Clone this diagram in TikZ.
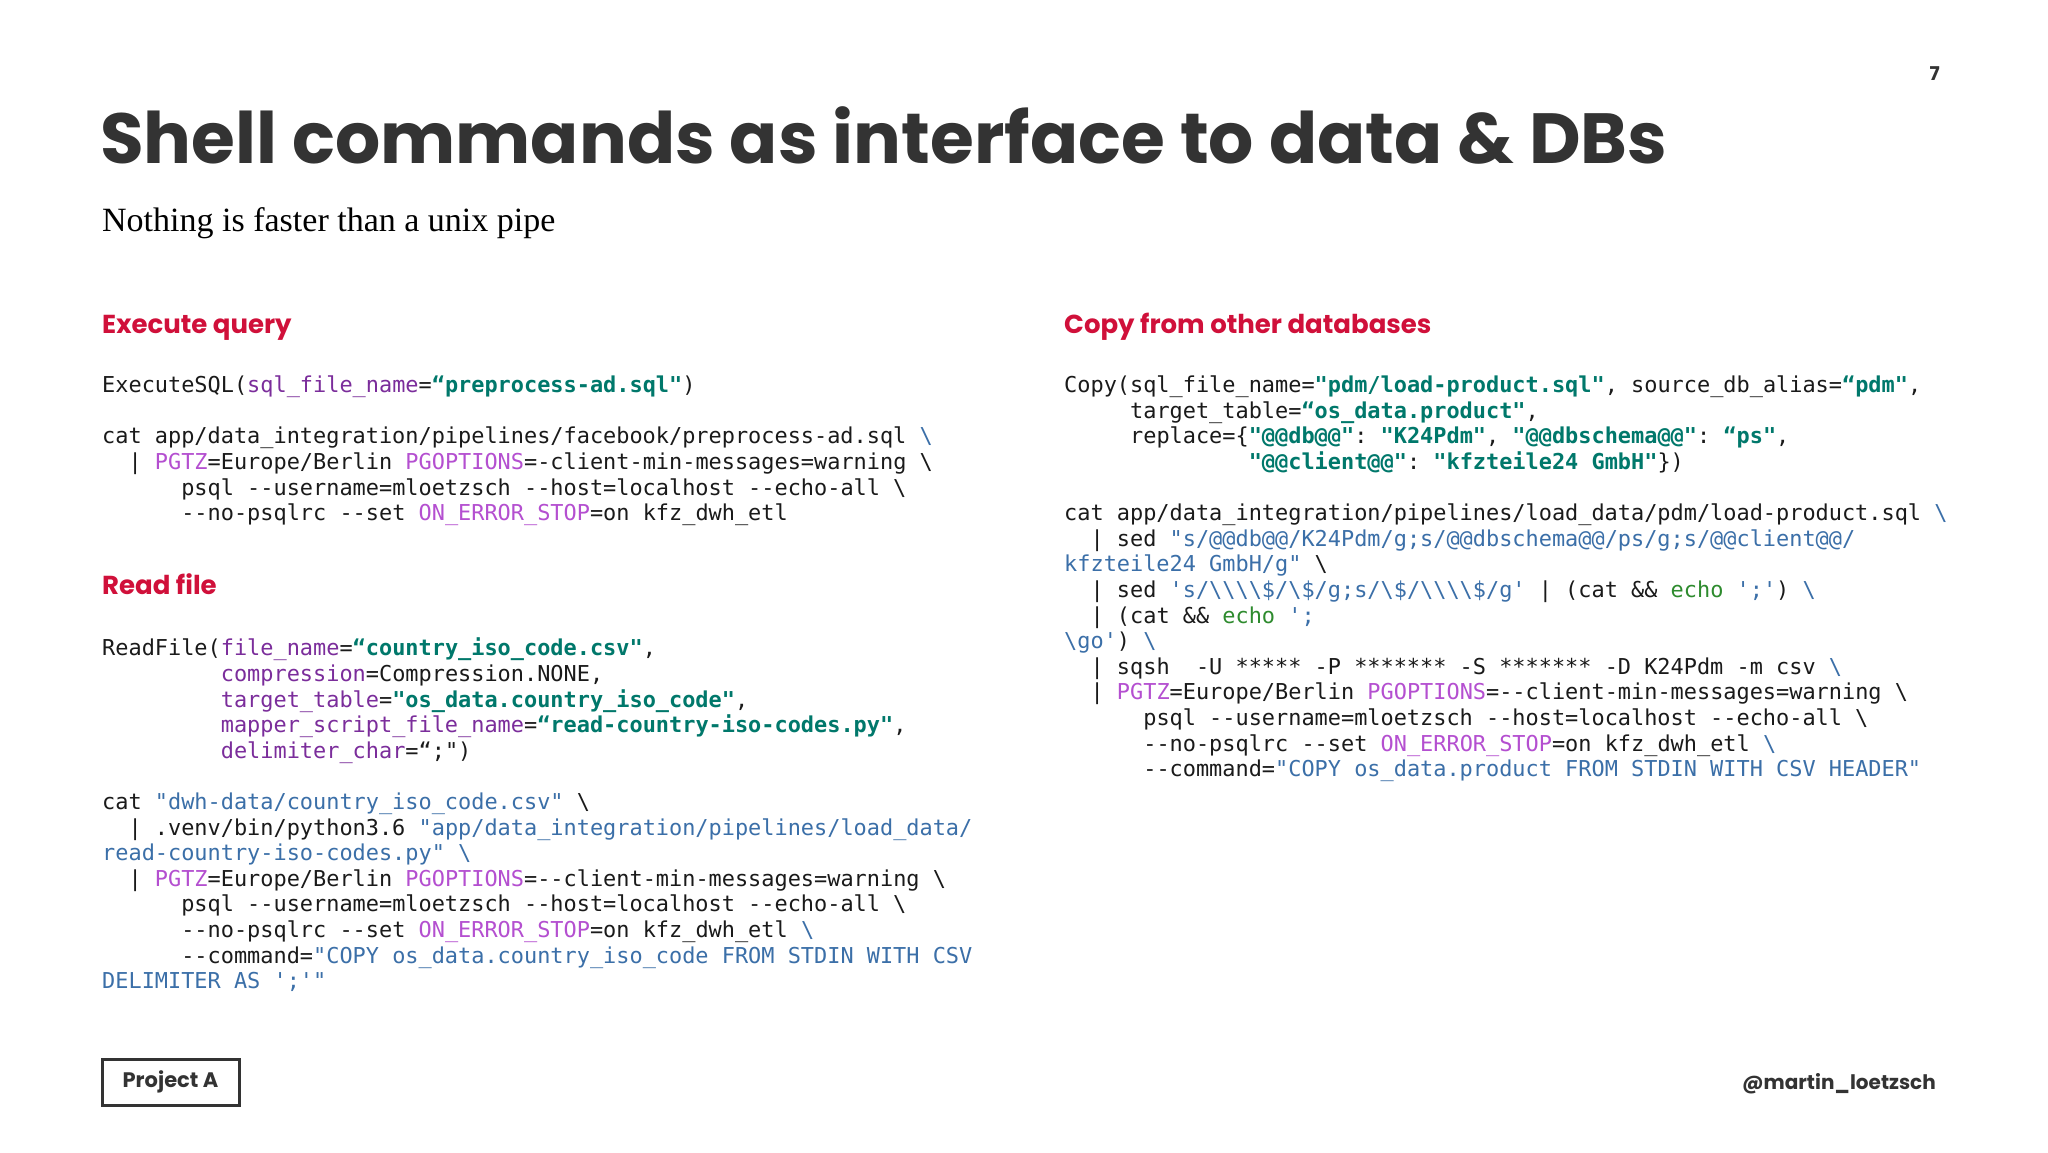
\documentclass[tikz,border=0pt]{standalone}
\usepackage{fontspec}
\setmainfont{Liberation Serif}
\setmonofont{DejaVu Sans Mono}
\newfontfamily\pop{Poppins}
\usetikzlibrary{positioning}
\definecolor{ttl}{HTML}{333333}
\definecolor{hred}{HTML}{D0103A}
\definecolor{argc}{HTML}{7B2D9B}
\definecolor{strc}{HTML}{00786B}
\definecolor{envc}{HTML}{B44FD0}
\definecolor{bluc}{HTML}{3B6FA8}
\definecolor{grnc}{HTML}{2E8B2E}
\definecolor{codec}{HTML}{1A1A1A}
\newcommand\cA[1]{\textcolor{argc}{#1}}
\newcommand\cS[1]{\textcolor{strc}{\bfseries #1}}
\newcommand\cE[1]{\textcolor{envc}{#1}}
\newcommand\cB[1]{\textcolor{bluc}{#1}}
\newcommand\cG[1]{\textcolor{grnc}{#1}}
\newcommand\ind[1]{\hspace*{#1\fontcharwd\font`x}}
\newcommand\bs{\textbackslash}
\newcommand\codeblock[1]{\begin{minipage}[t]{960pt}\ttfamily\fontsize{21.9pt}{25.6pt}\selectfont\raggedright\color{codec}#1\end{minipage}}
\tikzset{
 heading/.style={anchor=base west,inner sep=0,text=hred,font=\pop\bfseries\fontsize{26pt}{30pt}\selectfont},
 code/.style={anchor=base west,inner sep=0}
}
\begin{document}
\begin{tikzpicture}[x=1pt,y=-1pt]
\useasboundingbox[fill=white] (0,0) rectangle (2048,1152);
\node[anchor=base east,inner sep=0,text=ttl,font=\pop\bfseries\fontsize{19pt}{22pt}\selectfont] (pg) at (1940,80) {7};
\node[anchor=base west,inner sep=0,text=ttl,font=\pop\bfseries\fontsize{71pt}{84pt}\selectfont] (title) at (100,163) {Shell commands as interface to data \& DBs};
\node[anchor=base west,inner sep=0,text=black,font=\fontsize{34pt}{38pt}\selectfont] (sub) at (102,231) {Nothing is faster than a unix pipe};
\node[heading] (h1) at (102,333) {Execute query};
\node[heading] (h2) at (102,594) {Read file};
\node[heading] (h3) at (1064,333) {Copy from other databases};
\node[code] (c1) at (102,376) {\codeblock{%
ExecuteSQL(\cA{sql\_file\_name}=\cS{“preprocess-ad.sql"})\par
\mbox{}\par
cat app/data\_integration/pipelines/facebook/preprocess-ad.sql \cB{\bs}\par
\ind{2}| \cE{PGTZ}=Europe/Berlin \cE{PGOPTIONS}=-client-min-messages=warning \bs\par
\ind{6}psql --username=mloetzsch --host=localhost --echo-all \bs\par
\ind{6}--no-psqlrc --set \cE{ON\_ERROR\_STOP}=on kfz\_dwh\_etl\par}};
\node[code] (c2) at (102,638) {\codeblock{%
ReadFile(\cA{file\_name}=\cS{“country\_iso\_code.csv"},\par
\ind{9}\cA{compression}=Compression.NONE,\par
\ind{9}\cA{target\_table}=\cS{"os\_data.country\_iso\_code"},\par
\ind{9}\cA{mapper\_script\_file\_name}=\cS{“read-country-iso-codes.py"},\par
\ind{9}\cA{delimiter\_char}=“;")\par
\mbox{}\par
cat \cB{"dwh-data/country\_iso\_code.csv"} \bs\par
\ind{2}| .venv/bin/python3.6 \cB{"app/data\_integration/pipelines/load\_data/}\par
\cB{read-country-iso-codes.py"} \cB{\bs}\par
\ind{2}| \cE{PGTZ}=Europe/Berlin \cE{PGOPTIONS}=--client-min-messages=warning \bs\par
\ind{6}psql --username=mloetzsch --host=localhost --echo-all \bs\par
\ind{6}--no-psqlrc --set \cE{ON\_ERROR\_STOP}=on kfz\_dwh\_etl \cB{\bs}\par
\ind{6}--command=\cB{"COPY os\_data.country\_iso\_code FROM STDIN WITH CSV}\par
\cB{DELIMITER AS ';'"}\par}};
\node[code] (c3) at (1064,376) {\codeblock{%
Copy(sql\_file\_name=\cS{"pdm/load-product.sql"}, source\_db\_alias=\cS{“pdm"},\par
\ind{5}target\_table=\cS{“os\_data.product"},\par
\ind{5}replace=\{\cS{"@@db@@"}: \cS{"K24Pdm"}, \cS{"@@dbschema@@"}: \cS{“ps"},\par
\ind{14}\cS{"@@client@@"}: \cS{"kfzteile24 GmbH"}\})\par
\mbox{}\par
cat app/data\_integration/pipelines/load\_data/pdm/load-product.sql \cB{\bs}\par
\ind{2}| sed \cB{"s/@@db@@/K24Pdm/g;s/@@dbschema@@/ps/g;s/@@client@@/}\par
\cB{kfzteile24 GmbH/g"} \bs\par
\ind{2}| sed \cB{'s/\bs\bs\bs\bs\$/\bs\$/g;s/\bs\$/\bs\bs\bs\bs\$/g'} | (cat \&\& \cG{echo} \cB{';'}) \cB{\bs}\par
\ind{2}| (cat \&\& \cG{echo} \cB{';}\par
\cB{\bs go'}) \cB{\bs}\par
\ind{2}| sqsh\ind{2}-U ***** -P ******* -S ******* -D K24Pdm -m csv \cB{\bs}\par
\ind{2}| \cE{PGTZ}=Europe/Berlin \cE{PGOPTIONS}=--client-min-messages=warning \bs\par
\ind{6}psql --username=mloetzsch --host=localhost --echo-all \bs\par
\ind{6}--no-psqlrc --set \cE{ON\_ERROR\_STOP}=on kfz\_dwh\_etl \cB{\bs}\par
\ind{6}--command=\cB{"COPY os\_data.product FROM STDIN WITH CSV HEADER"}\par}};
\node[draw=ttl,line width=3pt,minimum width=137pt,minimum height=46pt,inner sep=0,text=ttl,font=\pop\bfseries\fontsize{21pt}{25pt}\selectfont] (proj) at (170.5,1082) {Project A};
\node[anchor=base east,inner sep=0,text=ttl,font=\pop\bfseries\fontsize{20pt}{24pt}\selectfont] (tw) at (1936,1089) {@martin\_loetzsch};
\end{tikzpicture}
\end{document}
